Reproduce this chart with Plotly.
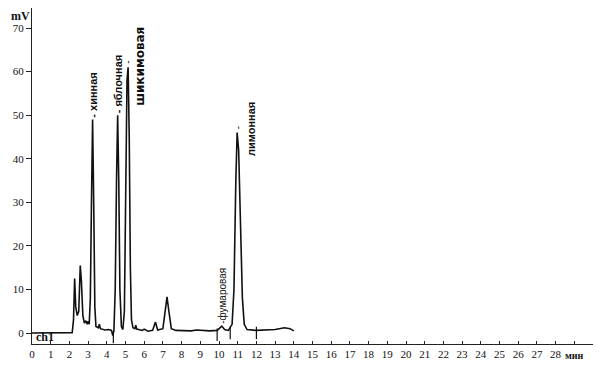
import plotly.graph_objects as go

# Chromatogram signal (time, min ; signal, mV)
time_min = [0.0, 1.0, 2.15, 2.22, 2.28, 2.34, 2.42, 2.5, 2.58, 2.64, 2.72, 2.8, 2.88, 2.95,
            3.0, 3.06, 3.12, 3.18, 3.24, 3.3, 3.36, 3.42, 3.55, 3.6, 3.66, 3.9, 4.1, 4.25,
            4.32, 4.38, 4.45, 4.52, 4.58, 4.64, 4.7, 4.78, 4.86, 4.94, 5.0, 5.08, 5.14,
            5.2, 5.26, 5.32, 5.4, 5.5, 5.55, 5.6, 5.9, 6.0, 6.2, 6.45, 6.6, 6.72, 7.0,
            7.12, 7.22, 7.32, 7.45, 7.7, 8.5, 8.8, 9.5, 9.9, 10.05, 10.15, 10.3, 10.5,
            10.7, 10.8, 10.9, 10.97, 11.05, 11.15, 11.25, 11.35, 11.5, 12.0, 12.5, 13.0,
            13.5, 13.8, 14.0]
signal_mv = [0.0, 0.0, 0.1, 3.0, 12.5, 6.0, 4.0, 5.0, 15.5, 12.0, 4.0, 2.3, 2.8, 2.0,
             2.7, 2.0, 8.0, 30.0, 49.0, 30.0, 6.0, 1.5, 1.2, 2.0, 1.0, 0.7, 0.8, 0.6,
             -0.6, 0.5, 10.0, 35.0, 50.0, 35.0, 10.0, 1.5, 0.8, 5.0, 30.0, 58.0, 61.0,
             45.0, 15.0, 3.0, 1.2, 1.0, 1.8, 0.9, 0.6, 0.9, 0.4, 0.6, 2.5, 0.7, 1.0,
             5.0, 8.3, 5.0, 1.0, 0.6, 0.5, 0.7, 0.5, 0.6, 1.2, 1.6, 0.8, 0.6,
             2.0, 10.0, 35.0, 46.0, 42.0, 25.0, 8.0, 2.0, 0.8, 0.6, 0.7, 0.8,
             1.2, 1.0, 0.5]

# Integration marks
mark_times = [4.35, 9.9, 10.6, 12.0]
mark_values = [-0.9, -0.4, 0.0, 0.0]

# Peak labels
peak_names = ["- хинная", "- яблочная", "шикимовая", "лимонная", "-фумаровая"]
peak_times = [3.24, 4.58, 5.14, 10.97, 10.15]
peak_heights = [49.0, 50.0, 61.0, 46.0, 1.6]

x_ticks = list(range(0, 31))
x_ticktext = [str(v) for v in range(0, 29)] + ["", ""]
y_ticks = [0, 10, 20, 30, 40, 50, 60, 70]

INK = "#111111"

fig = go.Figure()
fig.add_trace(go.Scatter(x=time_min, y=signal_mv, mode="lines",
                         line=dict(color=INK, width=1.6), showlegend=False,
                         hoverinfo="skip"))
fig.add_trace(go.Scatter(x=mark_times, y=mark_values, mode="markers",
                         marker=dict(symbol="line-ns-open", size=9, color=INK,
                                     line=dict(color=INK, width=1.2)),
                         showlegend=False, hoverinfo="skip"))

# label placement: (x shift px, y of text bottom in mV, font size, bold, family)
label_style = [(0, 49.0, 11, True, "Liberation Sans"),
               (0, 50.0, 11, True, "Liberation Sans"),
               (12, 51.6, 12, True, "DejaVu Sans"),
               (14, 40.2, 11, True, "Liberation Sans"),
               (0, 1.6, 10, False, "Liberation Sans")]
for name, t, (xs, yb, sz, bold, fam) in zip(peak_names, peak_times, label_style):
    txt = "<b>" + name + "</b>" if bold else name
    fig.add_annotation(x=t, y=yb, text=txt, textangle=-90, showarrow=False,
                       xanchor="center", yanchor="bottom", xshift=xs,
                       font=dict(family=fam, size=sz, color=INK))
# separate small marks above the peaks labelled to the side
for t, h in [(peak_times[2], peak_heights[2]), (peak_times[3], peak_heights[3])]:
    fig.add_annotation(x=t, y=h, text="-", textangle=-90, showarrow=False,
                       xanchor="center", yanchor="bottom", yshift=1,
                       font=dict(family="Liberation Sans", size=10, color=INK))

fig.add_annotation(xref="paper", x=-0.041, y=72.8, text="<b>mV</b>", showarrow=False,
                   xanchor="left", yanchor="middle",
                   font=dict(family="Liberation Serif", size=12, color=INK))
fig.add_annotation(x=0.1, y=-1.0, text="<b>ch1</b>", showarrow=False,
                   xanchor="left", yanchor="middle",
                   font=dict(family="Liberation Serif", size=12, color=INK))
fig.add_annotation(x=28.4, yref="paper", y=0, text="<b>мин</b>", showarrow=False,
                   xanchor="left", yanchor="top", yshift=-4,
                   font=dict(family="Liberation Serif", size=10, color=INK))

fig.update_layout(
    width=596, height=359,
    margin=dict(l=24, r=11, t=0, b=23, autoexpand=False),
    paper_bgcolor="white", plot_bgcolor="white",
    font=dict(family="Liberation Serif", size=11, color=INK),
    xaxis=dict(range=[0, 30], tickvals=x_ticks, ticktext=x_ticktext,
               showline=True, linecolor="#222222", linewidth=1,
               ticks="inside", ticklen=3, tickcolor="#222222",
               showgrid=False, zeroline=False, fixedrange=True, automargin=False),
    yaxis=dict(range=[-2.52, 74.6], tickvals=y_ticks,
               showline=True, linecolor="#222222", linewidth=1,
               ticks="outside", ticklen=5, tickcolor="#222222",
               showgrid=False, zeroline=False, fixedrange=True, automargin=False),
)

fig.write_html("out.html")
